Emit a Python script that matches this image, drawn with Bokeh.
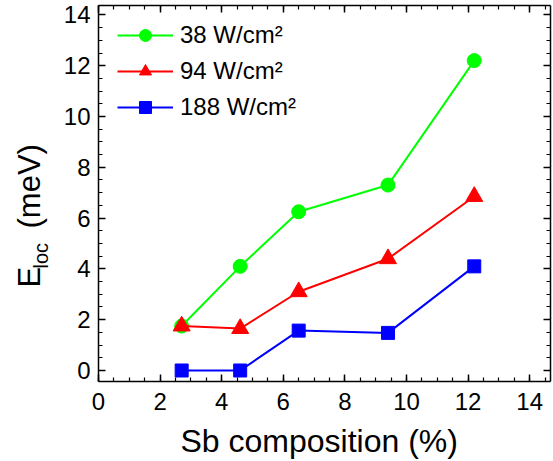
import numpy as np
from bokeh.plotting import figure
from bokeh.models import (Range1d, LinearAxis, Legend, LegendItem, Label,
                          SingleIntervalTicker, ColumnDataSource,
                          CustomJSTickFormatter)
from bokeh.embed import file_html
from bokeh.resources import INLINE

# Data
sb = [2.7, 4.6, 6.5, 9.4, 12.2]
e38 = [1.75, 4.1, 6.25, 7.3, 12.2]
e94 = [1.75, 1.65, 3.1, 4.4, 6.85]
e188 = [0.0, 0.0, 1.57, 1.48, 4.1]
series_labels = ["38 W/cm\u00b2", "94 W/cm\u00b2", "188 W/cm\u00b2"]
colors = ["#00ff00", "#ff0000", "#0000ff"]
markers = ["circle", "triangle", "square"]
msizes = [14, 17, 13]

# visible axis box (data units)
X0, X1 = 0.0, 14.68
Y0, Y1 = -0.43, 14.37

FONT = "Liberation Sans"

# frame fills the whole canvas; axes are drawn at fixed positions inside it
p = figure(width=553, height=461, output_backend="svg", toolbar_location=None,
           x_range=Range1d(-3.182, 14.773), y_range=Range1d(-3.583, 14.567),
           x_axis_location=None, y_axis_location=None, min_border=0)
p.grid.visible = False
p.outline_line_color = None
p.background_fill_color = "white"
p.border_fill_color = "white"


def make_axis(fixed, bounds, show_labels):
    ax = LinearAxis(ticker=SingleIntervalTicker(interval=2, num_minor_ticks=4),
                    fixed_location=fixed, bounds=bounds)
    ax.major_tick_in = 7
    ax.major_tick_out = 0
    ax.minor_tick_in = 4
    ax.minor_tick_out = 0
    ax.axis_line_width = 1.5
    ax.axis_line_color = "black"
    ax.major_tick_line_width = 1.5
    ax.minor_tick_line_width = 1.2
    if show_labels:
        ax.major_label_text_font = FONT
        ax.major_label_text_font_size = "24px"
        ax.major_label_text_color = "black"
    else:
        ax.formatter = CustomJSTickFormatter(code="return ''")
        ax.major_label_standoff = 0
    return ax


xax = make_axis(Y0, (X0, X1), True)
xax.major_label_standoff = 12
yax = make_axis(X0, (Y0, Y1), True)
yax.major_label_standoff = 8
p.add_layout(xax, "below")
p.add_layout(yax, "left")
p.add_layout(make_axis(Y1, (X0, X1), False), "above")
p.add_layout(make_axis(X1, (Y0, Y1), False), "right")

items = []
for ys, lab, c, m, s in zip([e38, e94, e188], series_labels, colors, markers, msizes):
    src = ColumnDataSource(dict(x=sb, y=ys))
    l = p.line("x", "y", source=src, line_color=c, line_width=2)
    r = p.scatter("x", "y", source=src, marker=m, size=s, fill_color=c, line_color=c)
    items.append(LegendItem(label=lab, renderers=[l, r]))

legend = Legend(items=items, location=(117, 339), margin=0, padding=0,
                spacing=6, glyph_width=56, glyph_height=30, label_height=30,
                label_standoff=7, label_text_font=FONT,
                label_text_font_size="24px", label_text_color="black",
                border_line_alpha=0, background_fill_alpha=0)
p.add_layout(legend, "center")

# axis titles (screen units from the canvas' bottom-left)
p.add_layout(Label(x=180, y=21, x_units="screen", y_units="screen",
                   text="Sb composition (%)", text_font=FONT,
                   text_font_size="32px", text_align="left",
                   text_baseline="alphabetic", text_color="black"))
kw = dict(x_units="screen", y_units="screen", angle=np.pi / 2,
          text_font=FONT, text_align="left", text_baseline="alphabetic",
          text_color="black")
p.add_layout(Label(x=29, y=174, text="E", text_font_size="31px", **kw))
p.add_layout(Label(x=40, y=193, text="loc", text_font_size="20px", **kw))
p.add_layout(Label(x=29, y=233, text="(meV)", text_font_size="31px", **kw))

open("out.html", "w").write(file_html(p, INLINE))
